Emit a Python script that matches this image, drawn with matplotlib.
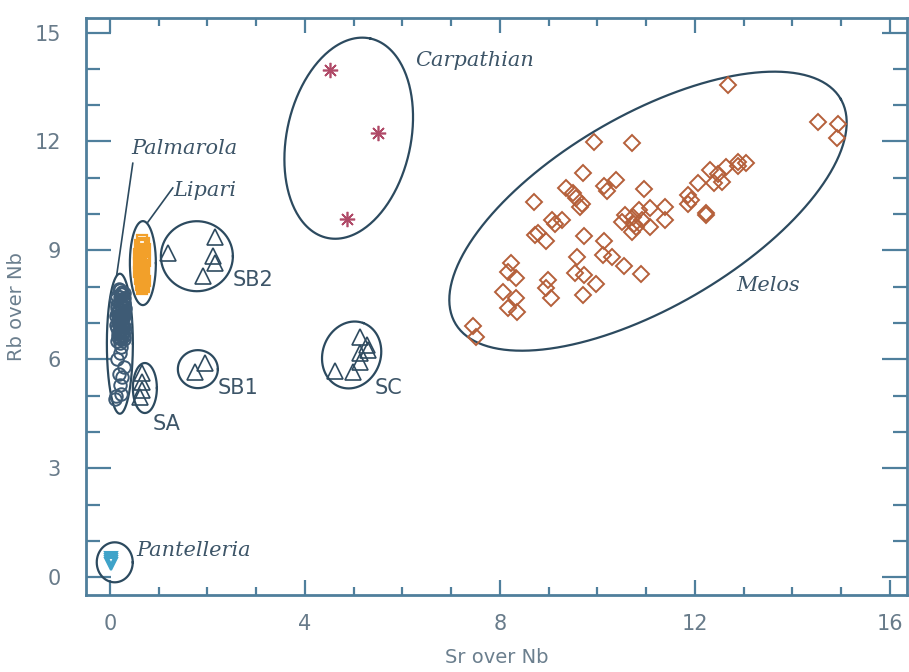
import numpy as np
import matplotlib.pyplot as plt

# ---- data ----
melos_x = [12.68, 14.52, 14.94, 14.91, 9.93, 10.71, 9.70, 12.32, 12.65, 12.88,
           13.05, 12.89, 12.48, 12.55, 12.39, 12.07, 10.39, 10.14, 10.19, 10.96,
           9.35, 9.50, 9.57, 9.68, 9.64, 8.70, 11.86, 11.93, 11.86, 12.24,
           12.22, 11.39, 11.08, 10.86, 10.56, 10.74, 10.91, 10.76, 10.50, 10.79,
           11.08, 11.39, 10.72, 9.08, 9.27, 9.13, 8.72, 8.79, 8.94, 9.73,
           10.14, 9.59, 10.12, 10.31, 10.55, 10.89, 9.54, 9.72, 9.98, 9.70,
           8.23, 8.17, 8.33, 8.99, 8.94, 9.06, 8.06, 8.33, 8.17, 8.36,
           7.45, 7.51]
melos_y = [13.55, 12.54, 12.47, 12.09, 11.99, 11.95, 11.12, 11.21, 11.29, 11.44,
           11.42, 11.32, 11.10, 10.89, 10.86, 10.85, 10.94, 10.77, 10.64, 10.69,
           10.71, 10.57, 10.43, 10.29, 10.20, 10.34, 10.52, 10.39, 10.29, 10.02,
           9.97, 10.20, 10.16, 10.11, 9.97, 9.93, 9.83, 9.74, 9.79, 9.65,
           9.65, 9.85, 9.50, 9.83, 9.83, 9.74, 9.42, 9.47, 9.26, 9.39,
           9.26, 8.82, 8.87, 8.81, 8.58, 8.35, 8.37, 8.32, 8.07, 7.77,
           8.64, 8.41, 8.25, 8.18, 7.97, 7.69, 7.86, 7.68, 7.40, 7.31,
           6.91, 6.62]

carp_x = [4.51, 5.50, 4.86]
carp_y = [13.97, 12.23, 9.86]

palm_x = [0.18, 0.25, 0.15, 0.28, 0.20, 0.30, 0.14, 0.24, 0.18, 0.30,
          0.22, 0.13, 0.27, 0.19, 0.32, 0.16, 0.24, 0.29, 0.14, 0.21,
          0.27, 0.17, 0.25, 0.20, 0.30, 0.15, 0.23, 0.20, 0.26, 0.17,
          0.23, 0.20, 0.31, 0.12, 0.26, 0.19, 0.28, 0.16,
          0.21, 0.27, 0.15, 0.24, 0.18, 0.29, 0.22, 0.13, 0.26, 0.19,
          0.31, 0.16, 0.23, 0.28, 0.14, 0.21, 0.25, 0.18, 0.30, 0.20,
          0.22, 0.20, 0.15, 0.28, 0.18, 0.25, 0.20, 0.12, 0.22, 0.10]
palm_y = [7.95, 7.85, 7.75, 7.70, 7.60, 7.55, 7.50, 7.45, 7.38, 7.32,
          7.25, 7.20, 7.15, 7.10, 7.05, 7.00, 6.95, 6.90, 6.85, 6.80,
          6.75, 6.70, 6.65, 6.60, 6.55, 6.50, 7.80, 7.90, 7.60, 7.30,
          7.05, 6.90, 7.40, 7.65, 7.25, 6.75, 6.65, 7.05,
          7.72, 7.62, 7.42, 7.35, 7.18, 7.22, 7.12, 6.95, 6.88, 6.72,
          6.82, 6.62, 6.55, 7.48, 7.28, 7.52, 7.00, 6.98, 7.82, 6.45,
          6.35, 6.18, 6.00, 5.80, 5.60, 5.50, 5.30, 5.00, 5.05, 4.90]

lip_x = [0.65, 0.70, 0.62, 0.72, 0.66, 0.60, 0.70, 0.64, 0.72, 0.60,
         0.68, 0.63, 0.71, 0.66, 0.60, 0.70, 0.64, 0.68, 0.61, 0.72,
         0.66, 0.63, 0.69, 0.65, 0.62, 0.70, 0.66, 0.64, 0.68]
lip_y = [9.30, 9.20, 9.15, 9.05, 8.95, 8.90, 8.85, 8.78, 8.70, 8.65,
         8.60, 8.55, 8.50, 8.45, 8.40, 8.35, 8.30, 8.25, 8.20, 8.15,
         8.10, 8.05, 8.00, 7.95, 8.60, 8.70, 8.30, 8.90, 9.00]

# obsidian sources SA, SB1, SB2, SC
sa_x = [0.66, 0.66, 0.66, 0.62]
sa_y = [5.62, 5.37, 5.15, 4.96]
sb1_x = [1.74, 1.95]
sb1_y = [5.65, 5.90]
sb2_x = [1.19, 2.15, 2.11, 2.15, 1.91]
sb2_y = [8.93, 9.37, 8.84, 8.65, 8.29]
sc_x = [5.13, 5.27, 5.29, 5.13, 5.13, 4.98, 4.62]
sc_y = [6.61, 6.39, 6.25, 6.17, 5.92, 5.65, 5.67]

pant_x = [0.02, 0.02, 0.02, 0.02]
pant_y = [0.36, 0.42, 0.48, 0.54]

# ellipses: centre (data), semi axes (px), angle (deg)
ellipses = [
    (0.205, 6.43, 13, 70, 0),     # Palmarola
    (0.677, 8.65, 13, 42, 0),     # Lipari
    (1.785, 8.84, 36, 35, 0),     # SB2
    (1.805, 5.73, 20, 19, 0),     # SB1
    (0.718, 5.21, 12, 25, 0),     # SA
    (4.96, 6.12, 34, 29, 70),     # SC
    (0.10, 0.41, 18, 20, 0),      # Pantelleria
    (4.90, 12.09, 102, 62, 77.8),  # Carpathian
    (11.04, 10.08, 223, 96, 30.2),  # Melos
]

line_col = '#2c4a5f'
spine_col = '#4f7f9c'
text_col = '#3d5568'
tick_col = '#687b8a'

fig = plt.figure(figsize=(9.09, 6.72), dpi=100)
ax = fig.add_axes([0.0946, 0.1146, 0.903, 0.8586])
xmin, xmax = -0.49, 16.35
ymin, ymax = -0.49, 15.40
ax.set_xlim(xmin, xmax)
ax.set_ylim(ymin, ymax)

# pixels per data unit, for drawing the tilted ellipses
sx = 909 * 0.903 / (xmax - xmin)
sy = 672 * 0.8586 / (ymax - ymin)

t = np.linspace(0, 2 * np.pi, 300)
for cx, cy, a, b, ang in ellipses:
    th = np.radians(ang)
    u, v = a * np.cos(t), b * np.sin(t)
    ex = cx + (u * np.cos(th) - v * np.sin(th)) / sx
    ey = cy + (u * np.sin(th) + v * np.cos(th)) / sy
    ax.plot(ex, ey, color=line_col, lw=1.6, zorder=2)

# markers
ax.plot(melos_x, melos_y, 'D', ms=7.8, mfc='none', mec='#b5603a', mew=1.4, zorder=3)
ax.plot(carp_x, carp_y, marker=(8, 2, 0), ls='none', ms=11, mec='#b04a68', mew=1.2, zorder=3)
ax.plot(palm_x, palm_y, 'o', ms=9, mfc='none', mec='#3e5b75', mew=1.4, zorder=3)
ax.plot(lip_x, lip_y, 's', ms=7, mfc='none', mec='#f2a02a', mew=1.6, zorder=3)
tri = dict(ls='none', ms=11, mfc='none', mec='#2f4b60', mew=1.2, zorder=3)
ax.plot(sa_x, sa_y, '^', **tri)
ax.plot(sb1_x, sb1_y, '^', **tri)
ax.plot(sb2_x, sb2_y, '^', **tri)
ax.plot(sc_x, sc_y, '^', **tri)
ax.plot(pant_x, pant_y, 'v', ms=9, mfc='none', mec='#3fa3c9', mew=1.5, zorder=3)

# leader lines
ax.plot([0.47, 0.14], [11.40, 8.32], color=line_col, lw=1.2)
ax.plot([1.29, 0.78], [10.72, 9.78], color=line_col, lw=1.2)

serif = dict(family='DejaVu Serif', style='italic', fontsize=15, color=text_col)
ax.text(0.43, 11.82, 'Palmarola', va='center', ha='left', **serif)
ax.text(1.31, 10.66, 'Lipari', va='center', ha='left', **serif)
ax.text(6.26, 14.24, 'Carpathian', va='center', ha='left', **serif)
ax.text(12.86, 8.04, 'Melos', va='center', ha='left', **serif)
ax.text(0.55, 0.74, 'Pantelleria', va='center', ha='left', **serif)

sans = dict(fontsize=15, color=text_col, va='center', ha='left')
ax.text(2.52, 8.18, 'SB2', **sans)
ax.text(2.22, 5.20, 'SB1', **sans)
ax.text(0.88, 4.21, 'SA', **sans)
ax.text(5.44, 5.20, 'SC', **sans)

# axes styling
ax.set_xticks([0, 4, 8, 12, 16])
ax.set_yticks([0, 3, 6, 9, 12, 15])
ax.set_xticks(np.arange(0, 17, 1), minor=True)
ax.set_yticks(np.arange(0, 16, 1), minor=True)
ax.tick_params(axis='both', which='both', direction='in', top=True, right=True,
               color=spine_col, width=1.6, labelcolor=tick_col, labelsize=15)
ax.tick_params(axis='x', which='major', length=11, pad=14)
ax.tick_params(axis='x', which='minor', length=6)
ax.tick_params(axis='y', which='major', length=18, pad=18)
ax.tick_params(axis='y', which='minor', length=10)
for s in ax.spines.values():
    s.set_color(spine_col)
    s.set_linewidth(2)

ax.set_xlabel('Sr over Nb', fontsize=14, color='#6b7f8e', labelpad=10)
ax.set_ylabel('Rb over Nb', fontsize=14, color='#6b7f8e', labelpad=6)

fig.savefig('out.png', dpi=100)
